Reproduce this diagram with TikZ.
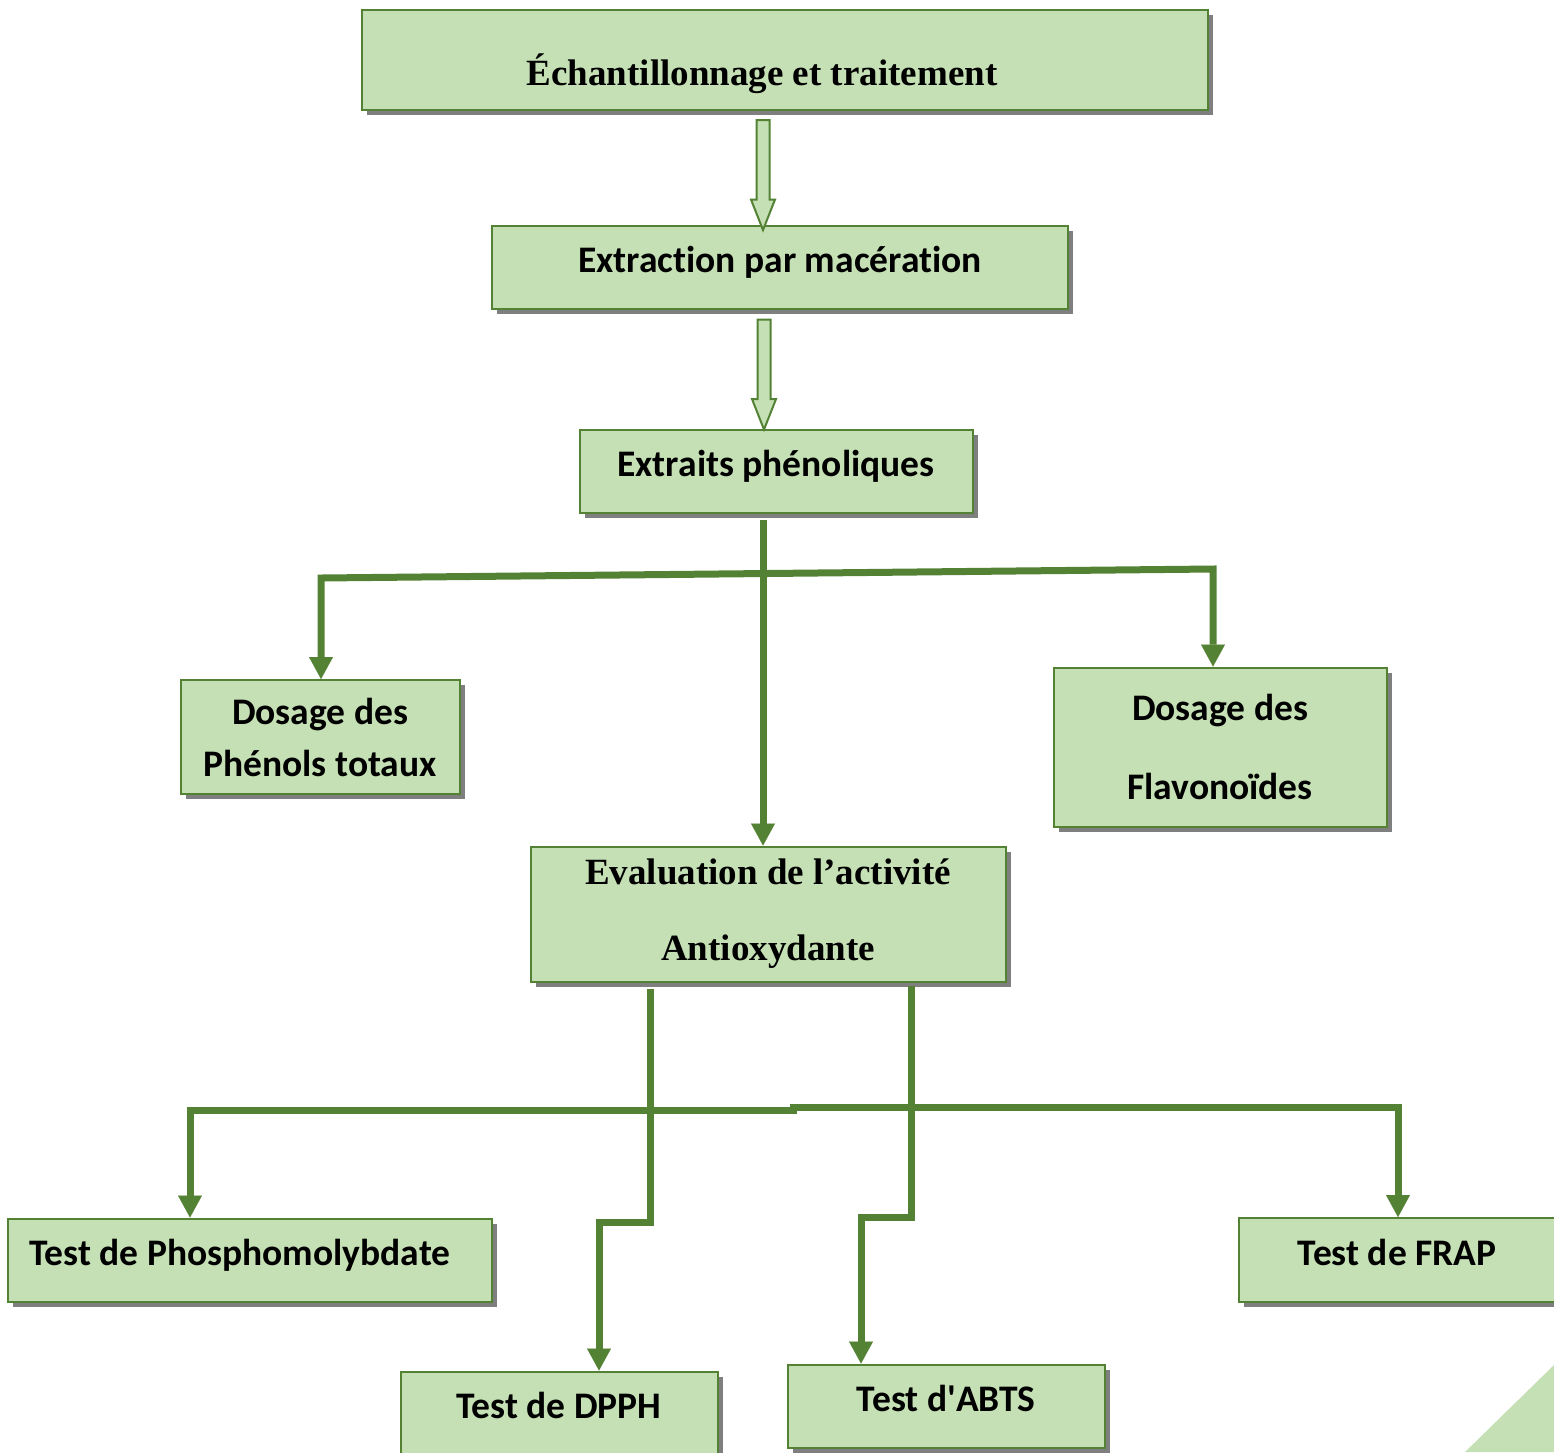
\documentclass[tikz,border=0pt]{standalone}
\usepackage{fontspec}
\setmainfont{Carlito}[Ligatures=NoCommon]
\newfontfamily\timesbf{Liberation Serif}
\usepackage{tikz}
\usetikzlibrary{calc, shadows, shapes.arrows, arrows.meta}

\definecolor{boxgreen}{HTML}{C5E0B4}
\definecolor{linegreen}{HTML}{548235}
\definecolor{shadowgray}{HTML}{7F7F7F}

\begin{document}
\begin{tikzpicture}[x=1pt, y=-1pt,
		>={Triangle[width=24pt, length=22pt, line width=0.1pt]},
		box/.style = {draw=linegreen, line width=2pt, fill=boxgreen, inner sep=0pt, align=center,
			font=\fontsize{37.5}{52}\selectfont\bfseries,
			drop shadow={shadow xshift=5pt, shadow yshift=-5pt, fill=shadowgray, opacity=1}},
		oneline/.style = {box, text height=26pt, text depth=15pt},
		serifbox/.style = {box, font=\fontsize{37}{76}\selectfont\timesbf\bfseries},
		flow/.style = {draw=linegreen, line width=7pt},
		hollow/.style = {single arrow, draw=linegreen, line width=2pt, fill=boxgreen, rotate=-90,
			anchor=tail, minimum height=110pt, inner sep=5.5pt,
			single arrow head extend=5.5pt, single arrow tip angle=43}]
			\clip (0,0) rectangle (1554,1452);
			\coordinate (spine) at (763,0);

			\node [serifbox, text height=60pt, text depth=10pt, minimum width=846pt, minimum height=100pt] (ech) at (785,60) {\hspace*{-46pt}Échantillonnage et traitement};
			\node [oneline, minimum width=576pt, minimum height=83pt] (extr) at (780,267) {Extraction par macération};
			\node [oneline, minimum width=393pt, minimum height=83pt] (phen) at (776,471) {Extraits phénoliques};
			\node [box, minimum width=279pt, minimum height=114pt] (ptot) at (320,737) {Dosage des\\Phénols totaux};
			\node [box, minimum width=333pt, minimum height=159pt, font=\fontsize{37.5}{79}\selectfont\bfseries] (flav) at (1220,747) {Dosage des\\Flavonoïdes};
			\node [serifbox, minimum width=475pt, minimum height=135pt] (anti) at (768,914) {Evaluation de l’activité\\Antioxydante};
			\node [oneline, minimum width=484pt, minimum height=83pt] (phos) at (250,1260) {\hspace*{-20pt}Test de Phosphomolybdate};
			\node [oneline, minimum width=317pt, minimum height=83pt] (dpph) at (559,1413) {Test de DPPH};
			\node [oneline, minimum width=317pt, minimum height=83pt] (abts) at (946,1406) {Test d\textquotesingle ABTS};
			\node [oneline, minimum width=317pt, minimum height=84pt] (frap) at (1397,1260) {Test de FRAP};

			\node [hollow] (down1) at ($(ech.south -| spine)+(0,8)$) {};
			\node [hollow] (down2) at ($(extr.south -| spine)+(1,9)$) {};

			\coordinate (hl) at (321,578);
			\coordinate (hr) at (1213,569);
			\draw [flow, <->] (ptot.north -| hl) -- (hl) -- (hr) -- (flav.north -| hr);
			\draw [flow, ->, shorten <=6pt] (phen.south -| spine) -- (anti.north -| spine);

			\coordinate (bl) at (190,1110);
			\coordinate (bm) at (797,1110);
			\coordinate (bn) at (790,1107);
			\coordinate (br) at (1398,1107);
			\draw [flow, ->] (bm) -- (bl) -- (bl |- phos.north);
			\draw [flow, ->] (bn) -- (br) -- (br |- frap.north);

			\coordinate (kl) at (650,1222);
			\coordinate (kl2) at (599,1222);
			\coordinate (kr) at (911,1217);
			\coordinate (kr2) at (861,1217);
			\draw [flow, ->, shorten <=6pt] (anti.south -| kl) -- (kl) -- (kl2) -- (kl2 |- dpph.north);
			\draw [flow, ->, shorten <=3pt] (anti.south -| kr) -- (kr) -- (kr2) -- (kr2 |- abts.north);

			\fill [boxgreen] (1554,1365) -- (1465,1452) -- (1554,1452) -- cycle;
		\end{tikzpicture}
\end{document}
